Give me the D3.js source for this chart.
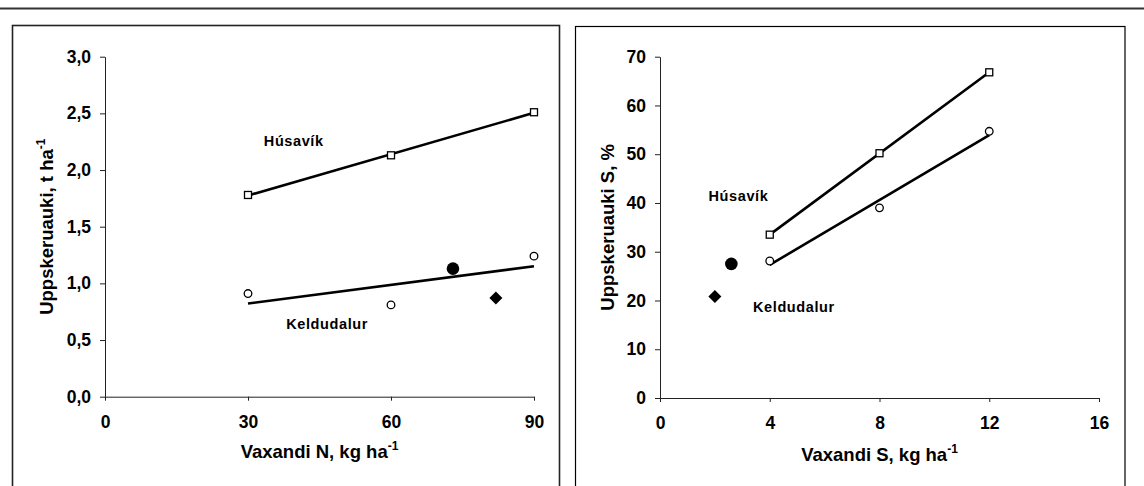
<!DOCTYPE html>
<html>
<head>
<meta charset="utf-8">
<script src="https://cdn.jsdelivr.net/npm/d3@7"></script>
<style>
  body { margin: 0; background: #fff; }
  text { font-family: "Liberation Sans", Arial, sans-serif; font-weight: bold; fill: #000; }
</style>
</head>
<body>
<div id="chart"></div>
<script>
// data: N panel
var nDoses = [30, 60, 90]
var nHusavik = [1.78, 2.13, 2.51]
var nKeldudalur = [0.91, 0.81, 1.24]
var nFilledCircle = [73, 1.13]
var nDiamond = [82, 0.87]
var nTicksX = [0, 30, 60, 90]
var nTicksY = [0, 0.5, 1.0, 1.5, 2.0, 2.5, 3.0]

// data: S panel
var sDoses = [4, 8, 12]
var sHusavik = [33.5, 50.2, 66.8]
var sKeldudalur = [28.1, 39.0, 54.7]
var sFilledCircle = [2.6, 27.5]
var sDiamond = [2.0, 20.8]
var sTicksX = [0, 4, 8, 12, 16]
var sTicksY = [0, 10, 20, 30, 40, 50, 60, 70]

var svg = d3.select("#chart")
    .append("svg")
    .attr("width", 1144)
    .attr("height", 486)

// top rule
svg.append("line")
    .attr("x1", 0).attr("x2", 1144)
    .attr("y1", 8.5).attr("y2", 8.5)
    .attr("stroke", "#333")
    .attr("stroke-width", 2)

// panel frames
svg.append("rect")
    .attr("x", 12.5).attr("y", 25.5)
    .attr("width", 547).attr("height", 480)
    .attr("fill", "none")
    .attr("stroke", "#222")
    .attr("stroke-width", 1.6)

svg.append("rect")
    .attr("x", 575.5).attr("y", 26.5)
    .attr("width", 549.5).attr("height", 480)
    .attr("fill", "none")
    .attr("stroke", "#000")
    .attr("stroke-width", 1.2)

// least squares line through the points
function fit(xs, ys) {
    var mx = d3.mean(xs), my = d3.mean(ys)
    var sxy = d3.sum(xs, function (x, i) { return (x - mx) * (ys[i] - my) })
    var sxx = d3.sum(xs, function (x) { return (x - mx) * (x - mx) })
    var b = sxy / sxx
    return function (x) { return my + b * (x - mx) }
}

function panel(o) {
    var x = d3.scaleLinear().domain(o.xDomain).range(o.xRange)
    var y = d3.scaleLinear().domain(o.yDomain).range(o.yRange)
    var g = svg.append("g")

    g.append("g")
        .attr("transform", "translate(0," + o.yRange[0] + ")")
        .call(d3.axisBottom(x).tickValues(o.ticksX).tickSize(4).tickSizeOuter(0).tickPadding(15).tickFormat(d3.format("d")))
    g.append("g")
        .attr("transform", "translate(" + o.xRange[0] + ",0)")
        .call(d3.axisLeft(y).tickValues(o.ticksY).tickSize(5).tickSizeOuter(0).tickPadding(9).tickFormat(o.fmtY))

    g.selectAll(".domain, .tick line").attr("stroke", "#222")
    g.selectAll(".tick text")
        .attr("font-size", 17.5)
        .attr("font-family", null)
        .attr("fill", "#000")

    // axis titles
    var tx = g.append("text")
        .attr("x", (o.xRange[0] + o.xRange[1]) / 2)
        .attr("y", o.xTitleY)
        .attr("text-anchor", "middle")
        .attr("font-size", 18.5)
        .text(o.xTitle)
    tx.append("tspan").attr("dy", -8).attr("font-size", 12).text("-1")

    var ty = g.append("text")
        .attr("transform", "translate(" + o.yTitleX + "," + ((o.yRange[0] + o.yRange[1]) / 2) + ") rotate(-90)")
        .attr("text-anchor", "middle")
        .attr("font-size", 18.5)
        .text(o.yTitle)
    if (o.yTitleSup) ty.append("tspan").attr("dy", -8).attr("font-size", 12).text("-1")

    // regression lines
    var series = [o.husavik, o.keldudalur]
    series.forEach(function (ys) {
        var f = fit(o.doses, ys)
        var x0 = d3.min(o.doses), x1 = d3.max(o.doses)
        g.append("line")
            .attr("x1", x(x0)).attr("y1", y(f(x0)))
            .attr("x2", x(x1)).attr("y2", y(f(x1)))
            .attr("stroke", "#000")
            .attr("stroke-width", 2.6)
    })

    // open squares (Húsavík)
    g.selectAll(".sq")
        .data(o.doses)
        .enter().append("rect")
        .attr("x", function (d) { return x(d) - 3.5 })
        .attr("y", function (d, i) { return y(o.husavik[i]) - 3.5 })
        .attr("width", 7).attr("height", 7)
        .attr("fill", "#fff")
        .attr("stroke", "#000")
        .attr("stroke-width", 1.3)

    // open circles (Keldudalur)
    g.selectAll(".ci")
        .data(o.doses)
        .enter().append("circle")
        .attr("cx", function (d) { return x(d) })
        .attr("cy", function (d, i) { return y(o.keldudalur[i]) })
        .attr("r", 3.8)
        .attr("fill", "#fff")
        .attr("stroke", "#000")
        .attr("stroke-width", 1.3)

    // single filled markers
    g.append("circle")
        .attr("cx", x(o.filled[0]))
        .attr("cy", y(o.filled[1]))
        .attr("r", 6.3)
        .attr("fill", "#000")

    g.append("path")
        .attr("d", "M0,-6.5L6.5,0L0,6.5L-6.5,0Z")
        .attr("transform", "translate(" + x(o.diamond[0]) + "," + y(o.diamond[1]) + ")")
        .attr("fill", "#000")

    // site labels
    g.append("text")
        .attr("x", x(o.husLabel[0])).attr("y", y(o.husLabel[1]))
        .attr("text-anchor", "middle")
        .attr("dy", "0.35em")
        .attr("font-size", 14.5)
        .attr("letter-spacing", 0.6)
        .text("Húsavík")

    g.append("text")
        .attr("x", x(o.kelLabel[0])).attr("y", y(o.kelLabel[1]))
        .attr("text-anchor", "middle")
        .attr("dy", "0.35em")
        .attr("font-size", 14.5)
        .attr("letter-spacing", 0.6)
        .text("Keldudalur")
}

// left panel: N
panel({
    xDomain: [0, 90], xRange: [105, 534],
    yDomain: [0, 3], yRange: [396.7, 56.7],
    ticksX: nTicksX, ticksY: nTicksY,
    fmtY: function (d) { return d3.format(".1f")(d).replace(".", ",") },
    doses: nDoses, husavik: nHusavik, keldudalur: nKeldudalur,
    filled: nFilledCircle, diamond: nDiamond,
    husLabel: [39.6, 2.26], kelLabel: [46.6, 0.64],
    xTitle: "Vaxandi N, kg ha", xTitleY: 458,
    yTitle: "Uppskeruauki, t ha", yTitleX: 53, yTitleSup: true
})

// right panel: S
panel({
    xDomain: [0, 16], xRange: [660, 1099],
    yDomain: [0, 70], yRange: [398, 56.7],
    ticksX: sTicksX, ticksY: sTicksY,
    fmtY: d3.format("d"),
    doses: sDoses, husavik: sHusavik, keldudalur: sKeldudalur,
    filled: sFilledCircle, diamond: sDiamond,
    husLabel: [2.86, 41.4], kelLabel: [4.88, 18.7],
    xTitle: "Vaxandi S, kg ha", xTitleY: 461,
    yTitle: "Uppskeruauki S, %", yTitleX: 614, yTitleSup: false
})
</script>
</body>
</html>
